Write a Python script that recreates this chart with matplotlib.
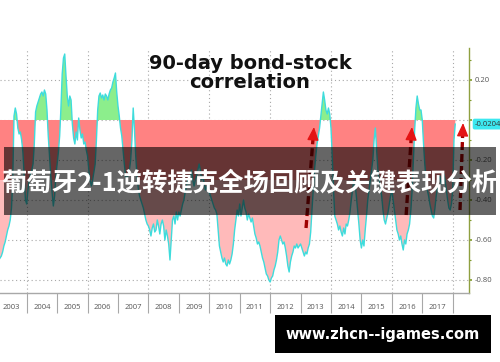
"""90-day bond-stock correlation chart with overlay banner"""
import matplotlib as mpl
mpl.use('Agg')
import matplotlib.pyplot as plt
import matplotlib.transforms as mtrans
from matplotlib.patches import Rectangle
from matplotlib.ticker import MultipleLocator, FixedLocator
import numpy as np

# ── data: semi-monthly readings, one list per year ──
START_YEAR = 2003.0
STEP = 1 / 24

corr_2003 = [-0.72, -0.72, -0.70, -0.69, -0.68, -0.66, -0.63, -0.61, -0.58, -0.55, -0.53, -0.50,
             -0.44, -0.30, 0.02, 0.06, 0.03, -0.04, -0.07, -0.06, -0.10, -0.16, -0.28, -0.40]
corr_2004 = [-0.42, -0.35, -0.30, -0.27, -0.25, -0.22, -0.12, 0.04, 0.07, 0.09, 0.11, 0.13,
             0.14, 0.12, 0.15, 0.13, 0.05, -0.08, -0.18, -0.28, -0.36, -0.43, -0.38, -0.28]
corr_2005 = [-0.22, -0.16, -0.08, 0.06, 0.23, 0.31, 0.33, 0.22, 0.12, 0.07, 0.12, 0.10,
             -0.02, -0.09, -0.12, -0.06, -0.10, 0.01, -0.05, -0.09, -0.07, -0.12, -0.11, -0.15]
corr_2006 = [-0.18, -0.25, -0.30, -0.33, -0.30, -0.26, -0.22, -0.10, 0.05, 0.12, 0.135, 0.11,
             0.125, 0.10, 0.13, 0.12, 0.10, 0.13, 0.15, 0.16, 0.19, 0.21, 0.235, 0.14]
corr_2007 = [0.07, 0.02, -0.04, -0.08, -0.15, -0.22, -0.28, -0.30, -0.27, -0.25, -0.20, -0.10,
             0.06, -0.05, -0.18, -0.28, -0.34, -0.38, -0.40, -0.42, -0.44, -0.47, -0.50, -0.52]
corr_2008 = [-0.53, -0.55, -0.58, -0.54, -0.52, -0.56, -0.55, -0.50, -0.53, -0.57, -0.52, -0.50,
             -0.53, -0.60, -0.55, -0.58, -0.62, -0.70, -0.60, -0.50, -0.48, -0.52, -0.46, -0.50]
corr_2009 = [-0.46, -0.48, -0.45, -0.42, -0.40, -0.36, -0.33, -0.30, -0.32, -0.28, -0.25, -0.30,
             -0.33, -0.30, -0.28, -0.25, -0.22, -0.25, -0.30, -0.28, -0.32, -0.35, -0.33, -0.36]
corr_2010 = [-0.36, -0.38, -0.40, -0.42, -0.44, -0.45, -0.47, -0.55, -0.63, -0.66, -0.69, -0.71,
             -0.69, -0.72, -0.73, -0.70, -0.72, -0.70, -0.67, -0.62, -0.55, -0.50, -0.45, -0.48]
corr_2011 = [-0.42, -0.48, -0.44, -0.40, -0.44, -0.46, -0.50, -0.47, -0.49, -0.51, -0.49, -0.53,
             -0.57, -0.59, -0.62, -0.61, -0.63, -0.66, -0.69, -0.71, -0.74, -0.77, -0.78, -0.80]
corr_2012 = [-0.81, -0.79, -0.78, -0.75, -0.73, -0.70, -0.66, -0.60, -0.58, -0.60, -0.62, -0.61,
             -0.64, -0.68, -0.73, -0.76, -0.71, -0.68, -0.66, -0.63, -0.64, -0.62, -0.64, -0.63]
corr_2013 = [-0.62, -0.64, -0.66, -0.68, -0.66, -0.67, -0.64, -0.62, -0.56, -0.45, -0.35, -0.25,
             -0.18, -0.12, -0.08, -0.04, 0.02, 0.08, 0.14, 0.10, 0.05, 0.03, 0.06, 0.03]
corr_2014 = [-0.04, -0.18, -0.35, -0.48, -0.50, -0.52, -0.55, -0.53, -0.56, -0.58, -0.54, -0.57,
             -0.52, -0.53, -0.50, -0.46, -0.40, -0.35, -0.30, -0.32, -0.38, -0.45, -0.52, -0.60]
corr_2015 = [-0.64, -0.60, -0.63, -0.55, -0.48, -0.40, -0.35, -0.30, -0.25, -0.20, -0.10, -0.04,
             -0.15, -0.25, -0.30, -0.33, -0.38, -0.45, -0.50, -0.52, -0.49, -0.46, -0.42, -0.38]
corr_2016 = [-0.35, -0.40, -0.45, -0.50, -0.55, -0.57, -0.60, -0.58, -0.62, -0.65, -0.60, -0.62,
             -0.57, -0.55, -0.52, -0.45, -0.35, -0.20, -0.05, 0.06, 0.12, 0.08, 0.05, 0.05]
corr_2017 = [0.00, -0.12, -0.22, -0.30, -0.35, -0.38, -0.42, -0.45, -0.48, -0.49, -0.44, -0.38,
             -0.33, -0.30, -0.28, -0.32, -0.30, -0.27, -0.30, -0.35, -0.40, -0.44, -0.45, -0.42]
corr_2018 = [-0.35, -0.10, -0.0204]

YEARS = list(range(2003, 2018))
LAST_VALUE = -0.0204

# dashed "rising" arrows: (year, correlation) tail -> head
ARROW_TAILS = [(2013.18, -0.54), (2016.47, -0.475), (2018.24, -0.45)]
ARROW_HEADS = [(2013.44, -0.035), (2016.66, -0.035), (2018.34, -0.015)]

TITLE = '90-day bond-stock\ncorrelation'
BANNER = '葡萄牙2-1逆转捷克全场回顾及关键表现分析'
WATERMARK = 'www.zhcn--igames.com'

series = np.array(corr_2003 + corr_2004 + corr_2005 + corr_2006 + corr_2007 + corr_2008
                  + corr_2009 + corr_2010 + corr_2011 + corr_2012 + corr_2013 + corr_2014
                  + corr_2015 + corr_2016 + corr_2017 + corr_2018)
dates = START_YEAR + np.arange(len(series)) * STEP

W, H = 500, 362
fig = plt.figure(figsize=(W / 100, H / 100), dpi=100)
ax = fig.add_axes([0, 1 - 292.7 / H, 469 / W, (292.7 - 48) / H])

# fills: strong red near zero, lighter pink further down, green above zero
ax.fill_between(dates, series, 0, where=series < 0, interpolate=True,
                color='#FFBABA', lw=0, zorder=1)
ax.fill_between(dates, np.maximum(series, -0.3), 0, where=series < 0, interpolate=True,
                color='#FF8282', lw=0, zorder=1.1)
ax.fill_between(dates, series, 0, where=series > 0, interpolate=True,
                color='#8CEE8C', lw=0, zorder=1)
ax.plot(dates, series, color='#3EDCDC', lw=1.0, zorder=2)

ax.set_xlim(2003.1226, 2018.5357)
ax.set_ylim(-0.8635, 0.36)

# grid
ax.set_axisbelow(True)
for y in [0.2, 0.0, -0.2, -0.4, -0.6, -0.8]:
    ax.axhline(y, color='#A8A8A8', lw=0.8, ls=(0, (1, 2.5)), zorder=0.5)
for x in range(2004, 2019, 2):
    ax.axvline(x, color='#A8A8A8', lw=0.8, ls=(0, (1, 2.5)), zorder=0.5)

# spines
for side in ['top', 'left']:
    ax.spines[side].set_visible(False)
ax.spines['bottom'].set_color('#A8A8A8')
ax.spines['bottom'].set_linewidth(1.0)
ax.spines['right'].set_color('#8FA040')
ax.spines['right'].set_linewidth(1.0)

# x axis: long year separators, labels centred in each year
ax.xaxis.set_major_locator(FixedLocator(range(2004, 2019)))
ax.xaxis.set_minor_locator(FixedLocator([y + 0.5 for y in YEARS]))
ax.xaxis.set_major_formatter(plt.NullFormatter())
ax.xaxis.set_minor_formatter(plt.FixedFormatter([str(y) for y in YEARS]))
ax.tick_params(axis='x', which='major', direction='out', length=14.4, width=0.8, color='#A8A8A8')
ax.tick_params(axis='x', which='minor', length=0, pad=8, labelsize=5.5, labelcolor='#555555')
for lab in ax.get_xticklabels(minor=True):
    lab.set_family('Open Sans')

# right y axis (0.00 sits under the last-value tag)
ax.yaxis.tick_right()
ax.yaxis.set_major_locator(FixedLocator([0.2, 0.0, -0.2, -0.4, -0.6, -0.8]))
ax.yaxis.set_minor_locator(MultipleLocator(0.1))
ax.yaxis.set_major_formatter(plt.FuncFormatter(
    lambda v, p: '' if abs(v) < 1e-9 else f'{v:.2f}'))
ax.tick_params(axis='y', which='major', direction='out', length=2.5, width=1.2, color='#7F9A2A',
               pad=1.5, labelsize=5.5, labelcolor='#555555')
ax.tick_params(axis='y', which='minor', direction='out', length=1.5, width=0.8, color='#7F9A2A')
for lab in ax.get_yticklabels():
    lab.set_family('Open Sans')

# last-value tag on the axis
tag_tf = mtrans.blended_transform_factory(ax.transAxes, ax.transData)
ax.text(1.012, LAST_VALUE, f'{LAST_VALUE:.4f}', transform=tag_tf, ha='left', va='center',
        fontsize=5.5, family='Open Sans', color='#333333', clip_on=False, zorder=6,
        bbox=dict(boxstyle='round,pad=0.25', fc='#3CE8F0', ec='none'))

# arrows: dashed dark shaft + bright head
for (tx, ty), (hx, hy) in zip(ARROW_TAILS, ARROW_HEADS):
    bx = hx + (tx - hx) * 0.1
    by = hy + (ty - hy) * 0.1
    ax.plot([tx, bx], [ty, by], color='#A00000', lw=2.4, ls=(0, (2.4, 1.2)),
            solid_capstyle='butt', zorder=4)
    ax.annotate('', xy=(hx, hy), xytext=(bx, by), zorder=4,
                arrowprops=dict(arrowstyle='-|>,head_length=0.8,head_width=0.35',
                                color='#E41414', lw=1.0, shrinkA=0, shrinkB=0))

# title
fig.text(0.5, 1 - 73 / H, TITLE, ha='center', va='center', fontsize=14,
         fontweight='bold', family='DejaVu Sans', color='#111111', linespacing=1.05)

# translucent banner with headline
fig.add_artist(Rectangle((4 / W, 1 - 215 / H), 492 / W, 68 / H, transform=fig.transFigure,
                         fc='black', alpha=0.6, lw=0, zorder=5))
fig.text(250 / W, 1 - 184 / H, BANNER, ha='center', va='center', fontsize=18.3,
         fontweight='bold', family=['Noto Sans CJK SC', 'DejaVu Sans'], color='white', zorder=6)

# watermark box
fig.add_artist(Rectangle((275 / W, 1 - 353 / H), 216 / W, 38 / H, transform=fig.transFigure,
                         fc='black', lw=0, zorder=5))
fig.text(383 / W, 1 - 335 / H, WATERMARK, ha='center', va='center', fontsize=10.5,
         fontweight='bold', family='DejaVu Sans', color='white', zorder=6)

fig.savefig('out.png', dpi=100)
